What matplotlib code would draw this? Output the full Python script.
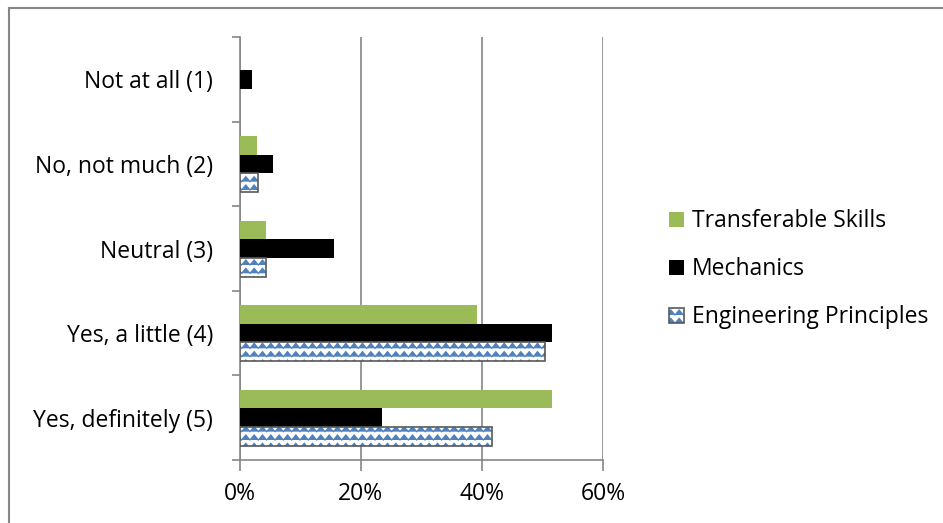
import numpy as np
import matplotlib
matplotlib.use('Agg')
import matplotlib.pyplot as plt
import matplotlib.hatch as mhatch
from matplotlib.path import Path
from matplotlib.lines import Line2D


# zigzag hatch like the Excel "wave" pattern
class ZigZagHatch(mhatch.HatchPatternBase):
    def __init__(self, hatch, density):
        self.rows = int(hatch.count('z') * density)
        self.steps = 2 * self.rows
        self.num_vertices = self.rows * (self.steps + 1) if self.rows else 0

    def set_vertices_and_codes(self, vertices, codes):
        k = 0
        amp = 0.3 / max(self.rows, 1)
        for r in range(self.rows):
            y0 = (r + 0.5) / self.rows
            for s in range(self.steps + 1):
                vertices[k] = (s / self.steps, y0 + (amp if s % 2 else -amp))
                codes[k] = Path.MOVETO if s == 0 else Path.LINETO
                k += 1


mhatch._hatch_types.append(ZigZagHatch)

plt.rcParams['font.family'] = ['Open Sans', 'DejaVu Sans']
plt.rcParams['hatch.linewidth'] = 0.9

# Data (fraction of respondents, in %)
categories = ['Not at all (1)', 'No, not much (2)', 'Neutral (3)',
              'Yes, a little (4)', 'Yes, definitely (5)']
transferable = [0.0, 2.9, 4.3, 39.2, 51.5]
mechanics = [2.1, 5.5, 15.6, 51.6, 23.5]
engineering = [0.0, 3.0, 4.4, 50.5, 41.6]

fs = 16.5

fig = plt.figure(figsize=(9.43, 5.23), dpi=100)
ax = fig.add_axes([0.254, 0.1205, 0.3855, 0.8085])

y = np.arange(len(categories))[::-1].astype(float)
h = 0.221

ts = ax.barh(y + h, transferable, height=h, color='#9BBB59', zorder=3)
me = ax.barh(y, mechanics, height=h, color='black', zorder=3)
# hatch takes the edge colour, so draw the pattern and the border separately
eng = ax.barh(y - h, engineering, height=h, facecolor='white', edgecolor='#4F81BD',
              linewidth=0, hatch='zz', zorder=3)
eng_border = ax.barh(y - h, engineering, height=h, fill=False, edgecolor='#595959',
                     linewidth=1.2, zorder=4)
# no visible bars for zero values
for p, q, v in zip(eng.patches, eng_border.patches, engineering):
    if v == 0:
        p.set_visible(False)
        q.set_visible(False)

ax.set_xlim(0, 60)
ax.set_ylim(-0.5, len(categories) - 0.5)
ax.set_xticks([0, 20, 40, 60])
ax.set_xticklabels(['0%', '20%', '40%', '60%'])
ax.set_yticks(y)
ax.set_yticklabels(categories)
ax.set_yticks(np.arange(-0.5, len(categories)), minor=True)

ax.grid(axis='x', color='#868686', linewidth=1.2, zorder=0)
for s in ['top', 'right']:
    ax.spines[s].set_visible(False)
for s in ['left', 'bottom']:
    ax.spines[s].set_color('#868686')
    ax.spines[s].set_linewidth(1.2)

ax.tick_params(axis='y', which='major', length=0, pad=19, labelsize=fs)
ax.tick_params(axis='y', which='minor', length=6, width=1.2, color='#868686')
ax.tick_params(axis='x', length=8, width=1.2, color='#868686', labelsize=fs, pad=8)

fig.legend([ts, me, (eng.patches[1], eng_border.patches[1])],
           ['Transferable Skills', 'Mechanics', 'Engineering Principles'],
           loc='center left', bbox_to_anchor=(0.6876, 0.485), frameon=False,
           fontsize=fs, handlelength=0.65, handleheight=0.65, handletextpad=0.35,
           labelspacing=1.05)

# chart border (top and left edges visible)
fig.add_artist(Line2D([0.0095, 0.0095], [0, 0.985], color='#868686', lw=1.5))
fig.add_artist(Line2D([0.0095, 1.0], [0.985, 0.985], color='#868686', lw=1.5))

fig.savefig('out.png', dpi=100)
